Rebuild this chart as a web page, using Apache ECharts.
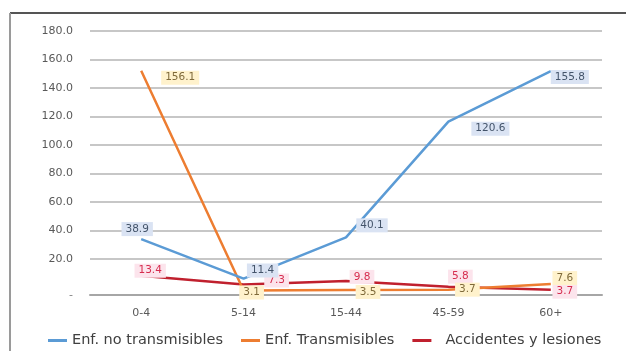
<!DOCTYPE html>
<html>
<head>
<meta charset="utf-8">
<script src="https://cdn.jsdelivr.net/npm/echarts@6/dist/echarts.min.js"></script>
<style>
  html, body { margin: 0; padding: 0; background: #fff; }
  #chart { width: 626px; height: 351px; }
</style>
</head>
<body>
<div id="chart"></div>
<script>
// Age groups on the horizontal axis
const ageGroups = ['0-4', '5-14', '15-44', '45-59', '60+'];

// Rates per age group for each cause group
const noTransmisibles = [38.9, 11.4, 40.1, 120.6, 155.8];
const transmisibles   = [156.1, 3.1, 3.5, 3.7, 7.6];
const accidentes      = [13.4, 7.3, 9.8, 5.8, 3.7];

// Reference lines of the value scale and the baseline label
const gridTicks = [20, 40, 60, 80, 100, 120, 140, 160, 180];
const baselineLabel = '-';

const seriesNames = ['Enf. no transmisibles', 'Enf. Transmisibles', 'Accidentes y lesiones'];

// Layout: pixel nudges for each value badge (dx, dy) relative to its point
const badgeShift = {
  blue:   [[-4, -10], [19, -8], [26, -12], [42, 7], [19, 6]],
  orange: [[39, 7], [8, 2], [22, 2], [19, 0], [14, -6]],
  red:    [[9, -5], [33, -4], [16, -4], [12, -10], [14, 2]]
};

const FONT = 'DejaVu Sans';

function badge(bg, color) {
  return {
    show: true,
    position: 'inside',
    formatter: p => p.value.toFixed(1),
    backgroundColor: bg,
    color: color,
    fontFamily: FONT,
    fontSize: 10.5,
    padding: [2, 4, 1, 4]
  };
}

function lineSeries(name, values, shifts, color, bg, textColor, z) {
  return {
    name: name,
    type: 'line',
    xAxisIndex: 1, yAxisIndex: 1,
    data: values,
    showSymbol: true,
    symbol: 'circle',
    symbolSize: 0.1,
    itemStyle: { color: color },
    lineStyle: { color: color, width: 2.5 },
    label: badge(bg, textColor),
    labelLayout: p => ({ dx: shifts[p.dataIndex][0], dy: shifts[p.dataIndex][1], hideOverlap: false }),
    z: z
  };
}

const chart = echarts.init(document.getElementById('chart'), null, { renderer: 'canvas' });

chart.setOption({
  animation: false,
  backgroundColor: '#ffffff',
  textStyle: { fontFamily: FONT },
  grid: [
    // scale with the labelled reference lines
    { left: 90, right: 24, top: 31, bottom: 92 },
    // plotting area for the lines, ending on the baseline
    { left: 90, right: 24, top: 31, bottom: 53 }
  ],
  xAxis: [
    { gridIndex: 0, type: 'category', data: ageGroups, show: false },
    {
      gridIndex: 1,
      type: 'category',
      data: ageGroups,
      name: baselineLabel,
      nameLocation: 'start',
      nameGap: 17,
      nameTextStyle: { color: '#7f7f7f', fontSize: 11, fontFamily: FONT, verticalAlign: 'middle' },
      axisLine: { lineStyle: { color: '#a6a6a6', width: 2 } },
      axisTick: { show: false },
      axisLabel: { color: '#595959', fontSize: 11, fontFamily: FONT, margin: 10 }
    }
  ],
  yAxis: [
    {
      gridIndex: 0,
      type: 'value',
      min: gridTicks[0],
      max: gridTicks[gridTicks.length - 1],
      interval: gridTicks[1] - gridTicks[0],
      axisLine: { show: false },
      axisTick: { show: false },
      axisLabel: { color: '#595959', fontSize: 11, fontFamily: FONT, margin: 17, formatter: v => v.toFixed(1) },
      splitLine: { lineStyle: { color: '#b4b4b4', width: 1.5 } }
    },
    {
      gridIndex: 1,
      type: 'value',
      min: -2.1,
      max: 183.7,
      show: false,
      splitLine: { show: false }
    }
  ],
  legend: {
    data: [
      { name: seriesNames[0] },
      { name: seriesNames[1] },
      { name: seriesNames[2], textStyle: { padding: [0, 0, 0, 9] } }
    ],
    left: 43,
    top: 328,
    icon: 'rect',
    itemWidth: 19,
    itemHeight: 3,
    itemGap: 18,
    textStyle: { color: '#404040', fontSize: 14.5, fontFamily: FONT }
  },
  series: [
    lineSeries(seriesNames[0], noTransmisibles, badgeShift.blue, '#5b9bd5', '#dae3f3', '#44546a', 4),
    lineSeries(seriesNames[1], transmisibles, badgeShift.orange, '#ed7d31', '#fff2cc', '#7f6a3a', 3),
    lineSeries(seriesNames[2], accidentes, badgeShift.red, '#c0202e', '#fce4ec', '#d62c4e', 2)
  ],
  graphic: [
    // outer frame of the chart area
    { type: 'line', shape: { x1: 10, y1: 13, x2: 626, y2: 13 }, style: { stroke: '#555555', lineWidth: 2 }, silent: true },
    { type: 'line', shape: { x1: 10, y1: 13, x2: 10, y2: 351 }, style: { stroke: '#9a9a9a', lineWidth: 2 }, silent: true }
  ]
});
</script>
</body>
</html>
